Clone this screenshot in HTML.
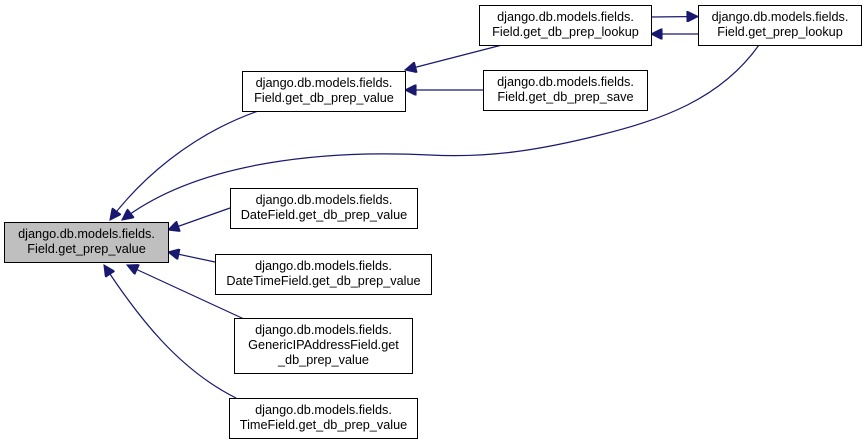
<!DOCTYPE html>
<html><head><meta charset="utf-8"><style>
html,body{margin:0;padding:0;background:#fff;}
svg{display:block;}
text{font-family:"Liberation Sans",Arial,sans-serif;font-size:12.7px;fill:#000;}
</style></head><body>
<svg width="867" height="444" viewBox="0 0 867 444" xmlns="http://www.w3.org/2000/svg">
<defs>
<marker id="a" viewBox="0 0 10 10" refX="10" refY="5" markerWidth="13" markerHeight="11" markerUnits="userSpaceOnUse" orient="auto">
<path d="M0,0 L10,5 L0,10 z" fill="#191970" stroke="#191970"/>
</marker>
</defs>
<g fill="none" stroke="#191970" stroke-width="1.2">
<path d="M258,111 C190,135 140,180 110,220" marker-end="url(#a)"/>
<path d="M759,45 C720,100 660,120 600,135 C540,150 490,158 430,155 C330,150 200,160 122,220" marker-end="url(#a)"/>
<path d="M230,208 L168,230" marker-end="url(#a)"/>
<path d="M215,262 L168,252" marker-end="url(#a)"/>
<path d="M244,319 L127,265" marker-end="url(#a)"/>
<path d="M236,398 C180,370 140,320 104,265" marker-end="url(#a)"/>
<path d="M502,45 L405,70" marker-end="url(#a)"/>
<path d="M483,90 L405,90" marker-end="url(#a)"/>
<path d="M651,17 L698,16.5" marker-end="url(#a)"/>
<path d="M698,34 L651,34" marker-end="url(#a)"/>
</g>
<g stroke="#000" stroke-width="1">
<rect x="4.5" y="222.5" width="164" height="40" fill="#bfbfbf"/>
<rect x="242.5" y="71.5" width="163" height="40" fill="#fff"/>
<rect x="479.5" y="5.5" width="172" height="40" fill="#fff"/>
<rect x="698.5" y="5.5" width="163" height="40" fill="#fff"/>
<rect x="483.5" y="70.5" width="164" height="40" fill="#fff"/>
<rect x="230.5" y="188.5" width="187" height="40" fill="#fff"/>
<rect x="215.5" y="254.5" width="216" height="40" fill="#fff"/>
<rect x="234.5" y="318.5" width="178" height="55" fill="#fff"/>
<rect x="229.5" y="398.5" width="188" height="40" fill="#fff"/>
</g>
<g text-anchor="middle">
<text x="86.5" y="238">django.db.models.fields.</text><text x="86.5" y="253">Field.get_prep_value</text>
<text x="324" y="87">django.db.models.fields.</text><text x="324" y="102">Field.get_db_prep_value</text>
<text x="565.5" y="21">django.db.models.fields.</text><text x="565.5" y="36">Field.get_db_prep_lookup</text>
<text x="780" y="21">django.db.models.fields.</text><text x="780" y="36">Field.get_prep_lookup</text>
<text x="565.5" y="86">django.db.models.fields.</text><text x="565.5" y="101">Field.get_db_prep_save</text>
<text x="324" y="204">django.db.models.fields.</text><text x="324" y="219">DateField.get_db_prep_value</text>
<text x="323.5" y="270">django.db.models.fields.</text><text x="323.5" y="285">DateTimeField.get_db_prep_value</text>
<text x="323.5" y="334">django.db.models.fields.</text><text x="323.5" y="349">GenericIPAddressField.get</text><text x="323.5" y="364">_db_prep_value</text>
<text x="323.5" y="414">django.db.models.fields.</text><text x="323.5" y="429">TimeField.get_db_prep_value</text>
</g>
</svg>
</body></html>
